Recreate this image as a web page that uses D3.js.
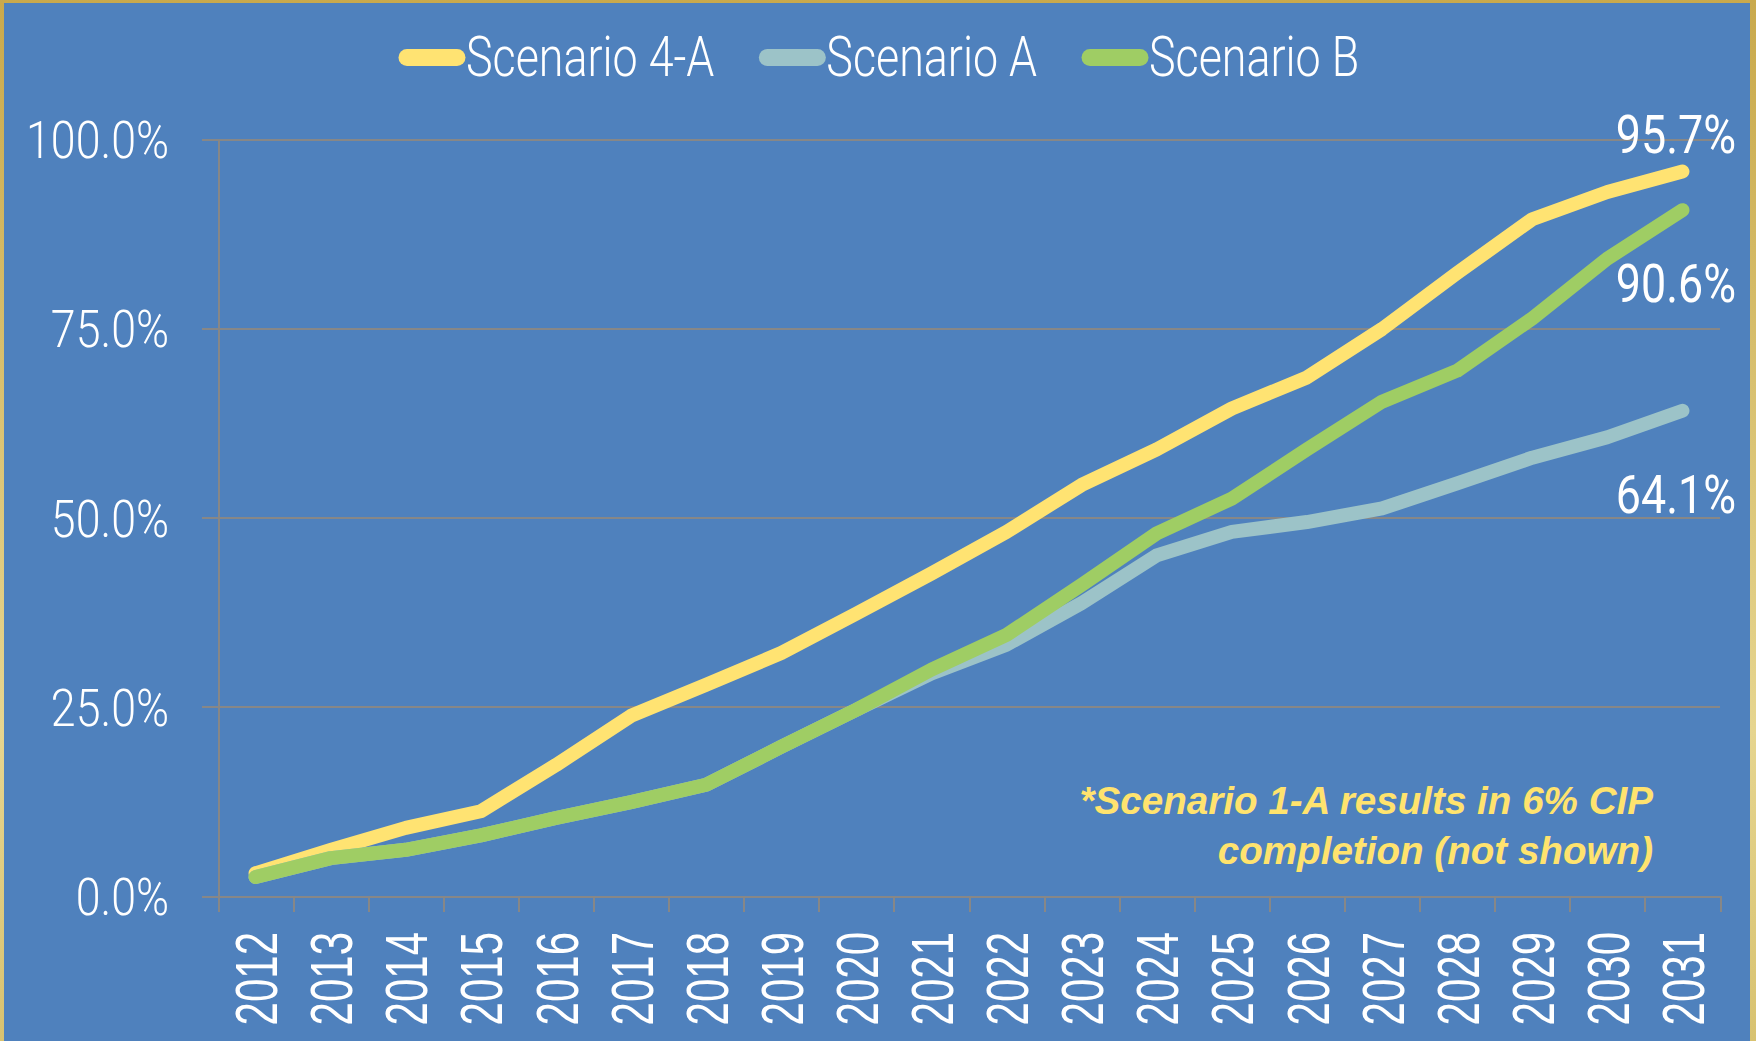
<!DOCTYPE html>
<meta charset="utf-8">
<style>
body { margin: 0; background: #fff; }
svg { display: block; }
.grid line { stroke: #878787; stroke-width: 2px; shape-rendering: crispEdges; }
.grid .domain { display: none; }
.yline .domain { stroke: #878787; stroke-width: 2px; shape-rendering: crispEdges; }
.xticks line, .xticks .domain { stroke: #878787; stroke-width: 2px; shape-rendering: crispEdges; }
.cond { fill: #fff; font-family: Roboto, "Liberation Sans", sans-serif; font-weight: 300; }
.year { fill: #fff; font-family: "Liberation Sans", Arial, sans-serif; font-size: 60px; }
.note { fill: #ffe36e; font-family: "Liberation Sans", Arial, sans-serif; font-size: 39px; font-weight: bold; font-style: italic; }
</style>
<body>
<script src="https://d3js.org/d3.v7.min.js"></script>
<script>

var years = ["2012", "2013", "2014", "2015", "2016", "2017", "2018", "2019", "2020", "2021",
             "2022", "2023", "2024", "2025", "2026", "2027", "2028", "2029", "2030", "2031"];
var scenario4A = [3.0, 6.1, 9.0, 11.2, 17.3, 23.8, 27.9, 32.1, 37.3, 42.6,
                  48.1, 54.3, 59.0, 64.4, 68.5, 74.9, 82.3, 89.4, 93.0, 95.7];
var scenarioA  = [2.5, 5.0, 6.1, 8.0, 10.3, 12.4, 14.7, 19.7, 24.6, 29.4,
                  33.2, 38.7, 45.0, 48.1, 49.4, 51.2, 54.5, 57.9, 60.6, 64.1];
var scenarioB  = [2.5, 5.0, 6.1, 8.0, 10.3, 12.4, 14.7, 19.7, 24.6, 29.9,
                  34.5, 41.1, 47.9, 52.5, 59.0, 65.3, 69.4, 76.3, 84.2, 90.6];
var yTicks = [0, 25, 50, 75, 100];
var seriesNames = ["Scenario 4-A", "Scenario A", "Scenario B"];
var seriesColors = ["#ffe372", "#9cc3c8", "#9fcd64"];
var noteLines = ["*Scenario 1-A results in 6% CIP", "completion (not shown)"];

var width = 1756, height = 1041;
var plotLeft = 218, plotRight = 1720, plotTop = 139, plotBottom = 896;

var svg = d3.select("body").append("svg")
    .attr("width", width)
    .attr("height", height);

// gold frame
var grad = svg.append("defs").append("linearGradient")
    .attr("id", "gold").attr("x1", 0).attr("y1", 0).attr("x2", 0).attr("y2", 1);
grad.append("stop").attr("offset", "0%").attr("stop-color", "#c9a94c");
grad.append("stop").attr("offset", "70%").attr("stop-color", "#e6d58f");
grad.append("stop").attr("offset", "100%").attr("stop-color", "#d8c270");

svg.append("rect").attr("width", width).attr("height", height).attr("fill", "url(#gold)");
svg.append("rect")
    .attr("x", 4).attr("y", 3)
    .attr("width", width - 10).attr("height", height - 3)
    .attr("fill", "#4f81bd");

var x = d3.scaleBand().domain(years).range([plotLeft, plotRight]);
var xEdge = d3.scaleLinear().domain([0, years.length]).range([plotLeft, plotRight]);
var y = d3.scaleLinear().domain([0, 100]).range([plotBottom, plotTop]);

// squeeze text horizontally around its anchor point
function squeeze(sel, k) {
  sel.each(function() {
    var t = d3.select(this);
    var tx = +t.attr("x") || 0, ty = +t.attr("y") || 0;
    t.attr("x", 0).attr("y", 0)
     .attr("transform", "translate(" + tx + "," + ty + ") scale(" + k + ",1)");
  });
}

// gridlines + y tick labels
var grid = svg.append("g")
    .attr("class", "grid")
    .attr("transform", "translate(" + plotRight + ",0)")
    .call(d3.axisLeft(y).tickValues(yTicks).tickSize(plotRight - 202).tickPadding(33)
      .tickFormat(function(d) { return d.toFixed(1) + "%"; }));
grid.selectAll("text")
    .attr("class", "cond")
    .style("font-size", "52px")
    .attr("dy", "0.36em")
    .attr("fill", null);
grid.selectAll("text").each(function() {
  var t = d3.select(this);
  t.attr("transform", "translate(" + t.attr("x") + ",0) scale(0.86,1)").attr("x", 0);
});

// y axis line
svg.append("g")
    .attr("class", "yline")
    .attr("transform", "translate(" + plotLeft + ",0)")
    .call(d3.axisLeft(y).tickValues([]).tickSizeOuter(0));

// x axis tick marks between categories
svg.append("g")
    .attr("class", "xticks")
    .attr("transform", "translate(0," + plotBottom + ")")
    .call(d3.axisBottom(xEdge).tickValues(d3.range(years.length + 1))
      .tickSize(16).tickSizeOuter(0).tickFormat(""));

// year labels
var xa = svg.append("g")
    .attr("transform", "translate(0," + 932 + ")")
    .call(d3.axisBottom(x).tickSize(0).tickPadding(0));
xa.select(".domain").remove();
xa.selectAll("text")
    .attr("class", "year")
    .attr("fill", null)
    .attr("y", 0)
    .attr("dy", "0.36em")
    .attr("text-anchor", "end")
    .attr("transform", "rotate(-90) scale(0.7,1)");

// lines
var series = [scenario4A, scenarioA, scenarioB];
var line = d3.line()
    .x(function(d, i) { return x(years[i]) + x.bandwidth() / 2; })
    .y(function(d) { return y(d); });

svg.append("g").selectAll("path")
    .data(series)
    .join("path")
    .attr("d", line)
    .attr("fill", "none")
    .attr("stroke", function(d, i) { return seriesColors[i]; })
    .attr("stroke-width", 14)
    .attr("stroke-linecap", "round")
    .attr("stroke-linejoin", "round");

// end labels
var endOffsets = [-19, 102, 92];
svg.append("g").selectAll("text")
    .data(series)
    .join("text")
    .attr("class", "cond")
    .style("font-size", "54px")
    .style("font-weight", 400)
    .attr("text-anchor", "end")
    .attr("x", 1736)
    .attr("y", function(d, i) { return y(d[d.length - 1]) + endOffsets[i]; })
    .text(function(d) { return d[d.length - 1].toFixed(1) + "%"; })
    .call(squeeze, 0.83);

// legend
var legend = svg.append("g");
var lx = 399;
seriesNames.forEach(function(name, i) {
  legend.append("line")
      .attr("x1", lx + 8).attr("x2", lx + 58)
      .attr("y1", 57.5).attr("y2", 57.5)
      .attr("stroke", seriesColors[i])
      .attr("stroke-width", 17)
      .attr("stroke-linecap", "round");
  var t = legend.append("text")
      .attr("class", "cond")
      .style("font-size", "56px")
      .attr("x", lx + 67).attr("y", 76)
      .text(name);
  var w = t.node().getComputedTextLength() * 0.8;
  t.call(squeeze, 0.8);
  lx += 67 + w + 45;
});

// note
svg.append("g").selectAll("text")
    .data(noteLines)
    .join("text")
    .attr("class", "note")
    .attr("text-anchor", "end")
    .attr("x", 1653)
    .attr("y", function(d, i) { return 814 + i * 50; })
    .text(function(d) { return d; })
    .call(squeeze, 0.99);

</script>
</body>
